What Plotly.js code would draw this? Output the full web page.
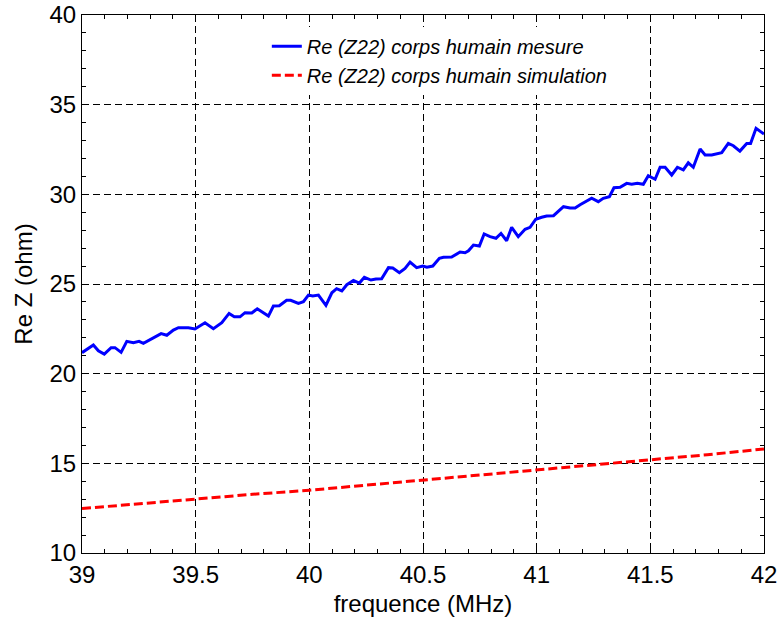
<!DOCTYPE html>
<html>
<head>
<meta charset="utf-8">
<script src="https://cdn.plot.ly/plotly-3.0.1.min.js"></script>
<style>html,body{margin:0;padding:0;background:#fff;}#chart{width:780px;height:623px;}</style>
</head>
<body>
<div id="chart"></div>
<script>
// Measured: Re(Z22) corps humain mesure
var freqMesure = [39.0, 39.05, 39.072, 39.098, 39.128, 39.145, 39.172, 39.197, 39.226, 39.251, 39.27, 39.307, 39.348, 39.373, 39.402, 39.424, 39.468, 39.497, 39.541, 39.578, 39.615, 39.647, 39.67, 39.695, 39.717, 39.747, 39.771, 39.82, 39.842, 39.868, 39.90, 39.918, 39.952, 39.974, 39.996, 40.015, 40.04, 40.073, 40.099, 40.12, 40.143, 40.165, 40.194, 40.22, 40.242, 40.271, 40.293, 40.318, 40.348, 40.367, 40.396, 40.421, 40.443, 40.472, 40.499, 40.517, 40.543, 40.572, 40.59, 40.626, 40.663, 40.685, 40.70, 40.722, 40.748, 40.769, 40.795, 40.821, 40.843, 40.868, 40.89, 40.919, 40.949, 40.971, 40.996, 41.022, 41.044, 41.074, 41.095, 41.118, 41.147, 41.169, 41.191, 41.242, 41.271, 41.293, 41.32, 41.34, 41.367, 41.396, 41.418, 41.443, 41.469, 41.491, 41.521, 41.543, 41.565, 41.594, 41.619, 41.645, 41.667, 41.689, 41.719, 41.741, 41.77, 41.814, 41.843, 41.865, 41.894, 41.924, 41.941, 41.965, 42.0];
var reMesure = [21.17, 21.60, 21.28, 21.09, 21.45, 21.45, 21.19, 21.80, 21.72, 21.80, 21.69, 21.95, 22.23, 22.14, 22.43, 22.56, 22.56, 22.49, 22.84, 22.51, 22.84, 23.36, 23.17, 23.17, 23.40, 23.38, 23.62, 23.21, 23.77, 23.79, 24.09, 24.09, 23.92, 24.01, 24.38, 24.33, 24.38, 23.81, 24.51, 24.74, 24.61, 24.96, 25.20, 25.05, 25.37, 25.22, 25.28, 25.29, 25.91, 25.89, 25.63, 25.87, 26.22, 25.91, 26.00, 25.94, 26.00, 26.43, 26.49, 26.50, 26.78, 26.74, 26.85, 27.17, 27.12, 27.79, 27.64, 27.55, 27.82, 27.41, 28.16, 27.64, 28.05, 28.16, 28.61, 28.72, 28.79, 28.81, 29.03, 29.31, 29.24, 29.24, 29.42, 29.78, 29.59, 29.78, 29.87, 30.37, 30.39, 30.61, 30.56, 30.61, 30.56, 31.04, 30.84, 31.51, 31.51, 31.08, 31.51, 31.36, 31.76, 31.51, 32.53, 32.19, 32.19, 32.32, 32.84, 32.71, 32.41, 32.84, 32.84, 33.68, 33.36];

// Simulation: Re(Z22) corps humain simulation
var freqSim = [39.0, 39.25, 39.5, 39.75, 40.0, 40.25, 40.5, 40.75, 41.0, 41.25, 41.5, 41.75, 42.0];
var reSim = [12.48, 12.75, 13.02, 13.27, 13.50, 13.78, 14.05, 14.33, 14.62, 14.90, 15.18, 15.48, 15.80];

var seriesNames = ['Re (Z22) corps humain mesure', 'Re (Z22) corps humain simulation'];
var xTitle = 'frequence (MHz)';
var yTitle = 'Re Z (ohm)';

var FONT = '"Liberation Sans", Arial, sans-serif';

var traces = [
  {x: freqMesure, y: reMesure, type: 'scatter', mode: 'lines', name: seriesNames[0],
   line: {color: '#0000ff', width: 3}},
  {x: freqSim, y: reSim, type: 'scatter', mode: 'lines', name: seriesNames[1],
   line: {color: '#ff0000', width: 3, dash: '9px,4px'}}
];

var axisCommon = {
  showline: true, linecolor: '#000', linewidth: 1, mirror: 'ticks',
  ticks: 'inside', ticklen: 7, tickwidth: 1, tickcolor: '#000',
  showgrid: true, gridcolor: '#000', gridwidth: 1, griddash: '7px,4px',
  zeroline: false,
  tickfont: {family: FONT, size: 24, color: '#000'}
};

var layout = {
  width: 780, height: 623,
  margin: {l: 82, r: 16, t: 15, b: 70},
  paper_bgcolor: '#fff', plot_bgcolor: '#fff',
  font: {family: FONT, color: '#000'},
  showlegend: true,
  legend: {x: 0.271, y: 0.978, xanchor: 'left', yanchor: 'top',
           bgcolor: 'rgba(255,255,255,1)', borderwidth: 0,
           font: {family: FONT, size: 20, style: 'italic', color: '#000'}},
  xaxis: Object.assign({}, axisCommon, {
    range: [39, 42], tick0: 39, dtick: 0.5,
    minor: {dtick: 0.1, ticks: 'inside', ticklen: 4, tickcolor: '#000', showgrid: false},
    title: {text: xTitle, font: {family: FONT, size: 24, color: '#000'}, standoff: 8}
  }),
  yaxis: Object.assign({}, axisCommon, {
    range: [10, 40], tick0: 10, dtick: 5,
    minor: {dtick: 1, ticks: 'inside', ticklen: 4, tickcolor: '#000', showgrid: false},
    title: {text: yTitle, font: {family: FONT, size: 24, color: '#000'}, standoff: 10}
  })
};

Plotly.newPlot('chart', traces, layout, {displayModeBar: false, staticPlot: true});
</script>
</body>
</html>
